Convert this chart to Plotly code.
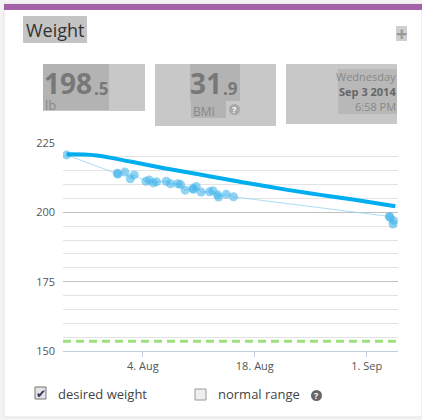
import plotly.graph_objects as go

# Weight readings (lb)
weigh_dates = ['2014-07-25 11:00', '2014-07-31 19:00', '2014-07-31 21:00', '2014-08-01 18:00',
               '2014-08-02 10:00', '2014-08-02 22:00', '2014-08-04 09:00', '2014-08-04 19:00',
               '2014-08-05 07:00', '2014-08-05 17:00', '2014-08-06 22:00', '2014-08-07 11:00',
               '2014-08-08 09:00', '2014-08-08 17:00', '2014-08-09 07:00', '2014-08-10 06:00',
               '2014-08-10 08:00', '2014-08-10 16:00', '2014-08-11 07:00', '2014-08-12 08:00',
               '2014-08-12 18:00', '2014-08-13 08:00', '2014-08-13 11:00', '2014-08-14 10:00',
               '2014-08-15 08:00', '2014-09-03 20:00', '2014-09-03 22:00', '2014-09-04 07:00',
               '2014-09-04 09:00']
weigh_vals = [220.7, 214.1, 213.8, 214.5,
              212.1, 213.5, 211.2, 211.7,
              210.6, 211.0, 211.2, 210.3,
              210.3, 210.0, 208.0, 208.6,
              208.3, 209.3, 207.3, 207.4,
              207.8, 206.3, 205.5, 206.5,
              205.6, 198.5, 198.2, 195.8,
              197.0]

# smoothed trend
trend_dates = ['2014-07-25 11:00', '2014-07-29 05:00', '2014-08-02 10:00', '2014-08-06 12:00',
               '2014-08-10 19:00', '2014-08-13 17:00', '2014-08-17 19:00', '2014-08-22 02:00',
               '2014-08-26 05:00', '2014-08-30 07:00', '2014-09-04 14:00']
trend_vals = [220.9, 220.5, 218.3, 216.0, 213.8, 212.3, 210.2, 208.1, 206.3, 204.6, 202.2]

desired_weight = 153.5
x_range = ['2014-07-25 00:00', '2014-09-04 22:00']
y_ticks = [150, 175, 200, 225]

# pixel layout of the widget
W, H = 422, 420
L, R, T, B = 63, 24, 143, 69
PW, PH = W - L - R, H - T - B


def xp(px):
    return (px - L) / PW


def yp(py):
    return (H - B - py) / PH


def box(x0, y0, x1, y1, color, line=None):
    return dict(type='rect', xref='paper', yref='paper', x0=xp(x0), x1=xp(x1), y0=yp(y1), y1=yp(y0),
                fillcolor=color, line=line or dict(width=0), layer='below')


def txt(px, py, text, size, color, xanchor='left', bold=False):
    if bold:
        text = '<b>' + text + '</b>'
    return dict(xref='paper', yref='paper', x=xp(px), y=yp(py), text=text, showarrow=False,
                xanchor=xanchor, yanchor='middle', font=dict(size=size, color=color, family='Open Sans'))


fig = go.Figure()

fig.add_trace(go.Scatter(x=[x_range[0], x_range[1]], y=[desired_weight, desired_weight], mode='lines',
                         line=dict(color='#9fe07e', width=3, dash='8px,5px'), hoverinfo='skip'))
fig.add_trace(go.Scatter(x=weigh_dates, y=weigh_vals, mode='lines',
                         line=dict(color='rgba(150,212,242,0.8)', width=1), hoverinfo='skip'))
fig.add_trace(go.Scatter(x=weigh_dates, y=weigh_vals, mode='markers',
                         marker=dict(color='rgba(70,182,235,0.6)', size=9, line=dict(width=0))))
fig.add_trace(go.Scatter(x=trend_dates, y=trend_vals, mode='lines', line_shape='spline',
                         line=dict(color='#00aeef', width=4)))

shapes = [
    # card
    box(4, 4, 422, 417, 'white', dict(color='#e2e2e2', width=1)),
    box(4, 4, 422, 10, '#a562a9'),
    # title
    box(23, 16, 87, 43, '#c4c4c4'),
    box(396, 26, 407, 41, '#cfcfcf'),
    # stat boxes
    box(43, 64, 145, 111, '#c8c8c8'),
    box(43, 64, 109, 110, '#b3b3b3'),
    box(155, 64, 276, 126, '#c8c8c8'),
    box(190, 64, 240, 101, '#b3b3b3'),
    box(191, 101, 226, 118, '#b3b3b3'),
    box(286, 64, 397, 124, '#c8c8c8'),
    box(338, 69, 397, 114, '#b8b8b8'),
    # checkboxes
    box(35, 387, 46, 399, '#e4e4e4', dict(color='#777', width=1)),
    box(195, 389, 206, 400, '#eeeeee', dict(color='#999', width=1)),
    dict(type='circle', xref='paper', yref='paper', x0=xp(229), x1=xp(240), y0=yp(115), y1=yp(104),
         fillcolor='#a8a8a8', line=dict(width=0)),
    dict(type='circle', xref='paper', yref='paper', x0=xp(311), x1=xp(322), y0=yp(401), y1=yp(390),
         fillcolor='#666666', line=dict(width=0)),
]

annotations = [
    txt(24, 30, 'Weight', 18, '#333333'),
    txt(401.5, 33, '+', 20, '#999999', 'center', True),
    txt(42, 83, '198', 28, '#787878', bold=True),
    txt(92, 88, '.5', 17, '#787878', bold=True),
    txt(43, 105, 'lb', 13, '#888888'),
    txt(188, 83, '31', 28, '#787878', bold=True),
    txt(221, 88, '.9', 17, '#787878', bold=True),
    txt(191, 111, 'BMI', 12, '#888888'),
    txt(234.5, 109.5, '?', 9, 'white', 'center', True),
    txt(398, 76, 'Wednesday', 11, '#888888', 'right'),
    txt(398, 91, 'Sep 3 2014', 11, '#666666', 'right', True),
    txt(398, 106, '6:58 PM', 11, '#888888', 'right'),
    txt(40.5, 393, '✔', 12, '#333355', 'center'),
    txt(56, 394, 'desired weight', 13, '#444444'),
    txt(216, 394, 'normal range', 13, '#444444'),
    txt(316.5, 395.5, '?', 9, 'white', 'center', True),
]

fig.update_layout(
    width=W, height=H,
    margin=dict(l=L, r=R, t=T, b=B),
    paper_bgcolor='#f3f3f3',
    plot_bgcolor='white',
    showlegend=False,
    shapes=shapes,
    annotations=annotations,
    font=dict(family='Open Sans', color='#555555'),
    xaxis=dict(range=x_range, type='date', tick0='2014-08-04', dtick=14 * 86400000,
               tickformat='%-d. %b', showgrid=False, zeroline=False,
               showline=True, linecolor='#c0d0e0', linewidth=1,
               ticks='outside', ticklen=5, tickcolor='#c0d0e0',
               tickfont=dict(size=11, color='#555555')),
    yaxis=dict(range=[150, 225], tickvals=y_ticks, showgrid=True, gridcolor='#c0c0c0',
               zeroline=False, showline=False, ticklabelstandoff=7,
               minor=dict(dtick=5, showgrid=True, gridcolor='#e3e3e3', gridwidth=1),
               tickfont=dict(size=11, color='#555555')),
)

fig.write_html('out.html', config={'displayModeBar': False},
               post_script="document.body.style.margin='0';document.body.style.overflow='hidden';")
